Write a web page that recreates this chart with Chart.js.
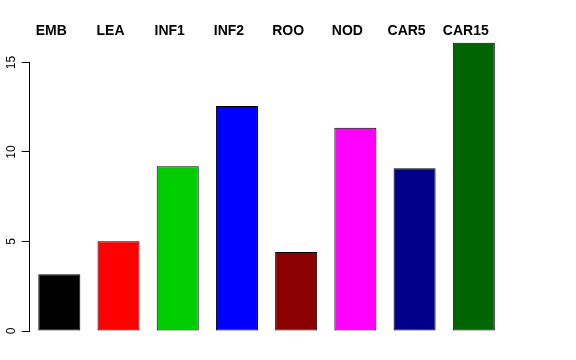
<!DOCTYPE html>
<html><head><meta charset="utf-8">
<script src="https://cdn.jsdelivr.net/npm/chart.js@4/dist/chart.umd.min.js"></script>
<style>html,body{margin:0;padding:0;background:#fff}#w{width:576px;height:360px}</style>
</head><body><div id="w"><canvas id="c" width="576" height="360"></canvas></div>
<script>
const categories = ["EMB","LEA","INF1","INF2","ROO","NOD","CAR5","CAR15"];
const values = [3.17, 5.02, 9.2, 12.57, 4.41, 11.35, 9.09, 16.1];
const barColors = ["#000000","#FF0000","#00CD00","#0000FF","#8B0000","#FF00FF","#00008B","#006400"];
const yTicks = [0, 5, 10, 15];

const axisLine = {
  id: 'axisLine',
  afterDraw(chart) {
    const y = chart.scales.y, ctx = chart.ctx;
    const x = Math.round(chart.chartArea.left) - 0.5;
    ctx.save();
    ctx.strokeStyle = '#000'; ctx.lineWidth = 1;
    ctx.beginPath();
    ctx.moveTo(x, y.getPixelForValue(yTicks[0]));
    ctx.lineTo(x, y.getPixelForValue(yTicks[yTicks.length-1]));
    ctx.stroke();
    ctx.restore();
  }
};

new Chart(document.getElementById('c'), {
  type: 'bar',
  data: { labels: categories, datasets: [{ data: values, backgroundColor: barColors, borderColor: '#000', borderWidth: 1, borderSkipped: false, barPercentage: 0.71, categoryPercentage: 1 }] },
  options: {
    responsive: false, animation: false,
    layout: { padding: { left: 0, right: 72.6, top: 15.6, bottom: 29 } },
    plugins: { legend: { display: false }, tooltip: { enabled: false } },
    scales: {
      x: {
        position: 'top',
        afterFit: s => { s.height = 20; },
        grid: { display: false, drawTicks: false },
        border: { display: false },
        ticks: { labelOffset: -8, padding: -4, color: '#000', font: { family: 'Liberation Sans', size: 14, weight: 'bold' }, maxRotation: 0, autoSkip: false }
      },
      y: {
        min: 0, max: 16.5,
        afterFit: s => { s.width = 29.7; },
        afterBuildTicks: s => { s.ticks = yTicks.map(v => ({ value: v })); },
        grid: { drawOnChartArea: false, tickLength: 8, color: '#000' },
        border: { display: false },
        ticks: { minRotation: 90, maxRotation: 90, crossAlign: 'center', padding: 3, color: '#000', font: { family: 'Liberation Sans', size: 12 } }
      }
    }
  },
  plugins: [axisLine]
});
</script></body></html>
